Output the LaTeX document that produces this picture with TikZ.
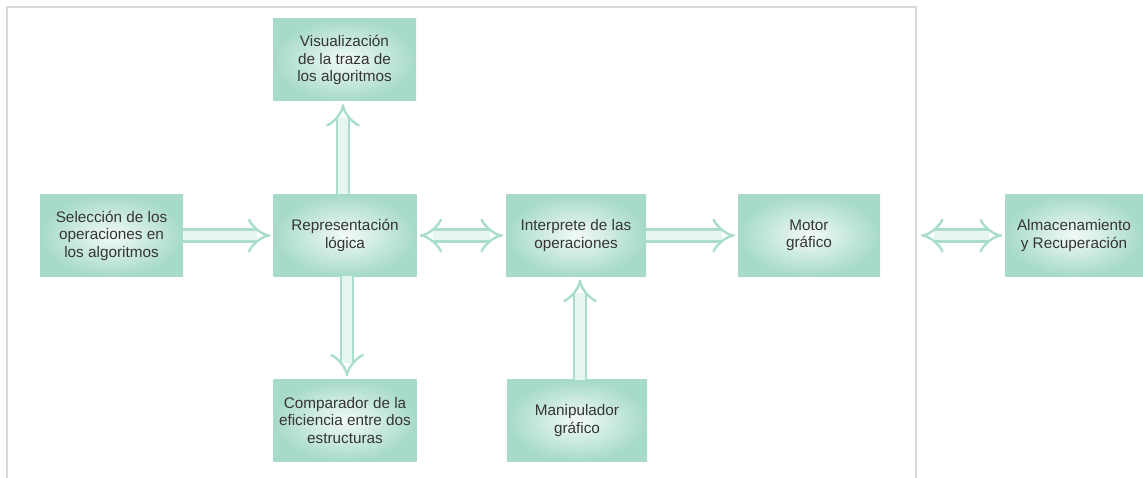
\documentclass[tikz,border=0pt]{standalone}
\usepackage{fontspec}
\setmainfont{Liberation Sans}
\usetikzlibrary{arrows.meta}
\definecolor{boxedge}{HTML}{A6DACA}
\definecolor{boxmid}{HTML}{F2FAF7}
\definecolor{arrline}{HTML}{ABDDCD}
\definecolor{arrfill}{HTML}{E8F6F1}
\definecolor{txt}{HTML}{353535}
\definecolor{frame}{HTML}{DADADA}
\tikzset{
  blk/.style={rectangle, minimum width=143pt, minimum height=82pt, inner sep=0pt, outer sep=0pt,
    inner color=boxmid, outer color=boxedge, align=center, text=txt,
    font=\fontsize{15.3}{17.5}\selectfont},
  arr/.style={draw=arrline, line width=2.4pt, double=arrfill, double distance=9.5pt,
    -{Implies}, shorten >=3pt},
  darr/.style={draw=arrline, line width=2.4pt, double=arrfill, double distance=9.5pt,
    {Implies}-{Implies}, shorten >=3pt, shorten <=3pt},
}
\begin{document}
\begin{tikzpicture}[x=1pt, y=-1pt]
\useasboundingbox (0,0) rectangle (1143,478);
\draw[frame, line width=2pt] (7,478) -- (7,7) -- (916,7) -- (916,478);
\node[blk] (vis) at (344.5,60) {Visualización\\de la traza de\\los algoritmos};
\node[blk] (sel) at (111.5,235.5) {Selección de los\\operaciones en\\los algoritmos};
\node[blk] (rep) at (345,235.5) {Representación\\lógica};
\node[blk, minimum width=140pt] (int) at (576,235.5) {Interprete de las\\operaciones};
\node[blk, minimum width=142pt] (mot) at (809,235.5) {Motor\\gráfico};
\node[blk, minimum width=138pt] (alm) at (1074,235.5) {Almacenamiento\\y Recuperación};
\node[blk] (com) at (345,420.5) {Comparador de la\\eficiencia entre dos\\estructuras};
\node[blk, minimum width=140pt] (man) at (577,420.5) {Manipulador\\gráfico};
\coordinate (m1) at ([xshift=41pt]mot.east);
\draw[arr] (sel.east) -- (rep.west);
\draw[arr] ([xshift=-2pt]rep.north) -- ([xshift=-2pt]rep.north |- vis.south);
\draw[arr] ([xshift=2pt]rep.south) -- ([xshift=2pt]rep.south |- com.north);
\draw[darr] (rep.east) -- (int.west);
\draw[arr] (int.east) -- (mot.west);
\draw[arr] ([xshift=3pt]man.north) -- ([xshift=3pt]man.north |- int.south);
\draw[darr, shorten <=0pt] (m1) -- (alm.west);
\end{tikzpicture}
\end{document}
